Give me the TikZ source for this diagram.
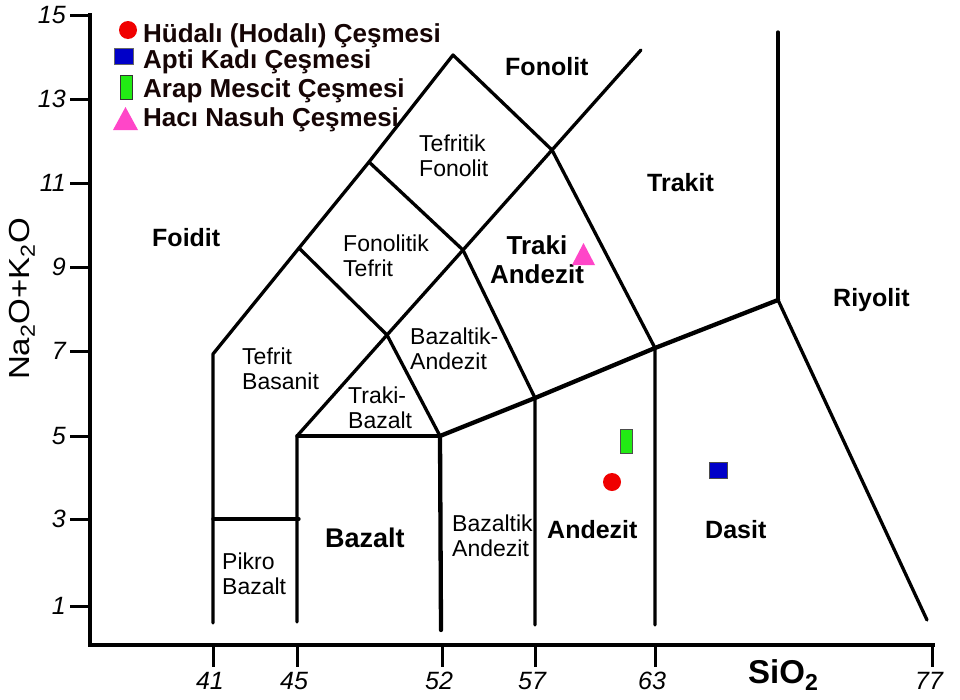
\documentclass[tikz,border=0pt]{standalone}
\usepackage{fontspec}
\usepackage{graphicx}
\setmainfont{Liberation Sans}
\definecolor{legtxt}{RGB}{22,5,5}
\definecolor{mkred}{RGB}{240,0,0}
\definecolor{mkblue}{RGB}{0,0,200}
\definecolor{mkgreen}{RGB}{34,235,20}
\definecolor{mkpink}{RGB}{255,70,200}
\tikzset{
  bound/.style={line width=3.3pt, line cap=round, line join=round},
  boundthick/.style={line width=4.3pt, line cap=round, line join=round},
  axisline/.style={line width=4.2pt, line cap=rect},
  tickline/.style={line width=3pt},
  lbl/.style={inner sep=0pt, anchor=north west, align=left, font=\fontsize{23}{25}\selectfont},
  blbl/.style={inner sep=0pt, anchor=north west, font=\fontsize{25}{28}\selectfont\bfseries},
  tk/.style={inner sep=0pt, font=\fontsize{25}{25}\selectfont\itshape},
  legend/.style={inner sep=0pt, anchor=base west, text=legtxt, font=\fontsize{26}{26}\selectfont\bfseries},
}
\begin{document}
\begin{tikzpicture}[x=1pt,y=-1pt]
\useasboundingbox (0,0) rectangle (960,699);
\fill[white] (0,0) rectangle (960,699);

% ---- key points of the TAS boundaries
\coordinate (a41b) at (213,623);
\coordinate (a41t) at (213,354);
\coordinate (p1) at (299,248);
\coordinate (p2) at (369,162);
\coordinate (peak) at (453,55);
\coordinate (j1) at (552,150);
\coordinate (ft) at (641,50);
\coordinate (j2) at (463,250);
\coordinate (j3) at (387,335);
\coordinate (b45t) at (297,436);
\coordinate (b45b) at (297,622);
\coordinate (b52t) at (440,436);
\coordinate (b52b) at (441,630);
\coordinate (j57) at (535,398);
\coordinate (b57b) at (535,625);
\coordinate (j63) at (655,348);
\coordinate (b63b) at (655,625);
\coordinate (r) at (778,300);
\coordinate (rtop) at (778,32);
\coordinate (rbot) at (927,620);
\coordinate (pk1) at (213,519);
\coordinate (pk2) at (299,519);

% ---- boundaries
\draw[bound] (a41b) -- (a41t) -- (p1) -- (p2) -- (peak) -- (j1) -- (j63) -- (b63b);
\draw[bound] (ft) -- (j1) -- (j2) -- (j3) -- (b45t) -- (b45b);
\draw[bound] (p1) -- (j3) -- (b52t);
\draw[boundthick] (b52t) -- (b52b);
\draw[bound] (p2) -- (j2) -- (j57) -- (b57b);
\draw[bound] (b45t) -- (b52t);
\draw[boundthick] (b52t) -- (j57) -- (j63) -- (r);
\draw[bound] (r) -- (rbot);
\draw[bound] (rtop) -- (r);
\draw[bound] (pk1) -- (pk2);

% ---- axes
\coordinate (ytop) at (90,15);
\coordinate (orig) at (90,645);
\coordinate (xend) at (933,645);
\draw[axisline] (ytop) -- (orig) -- (xend);
\foreach \v/\yy in {15/15,13/99,11/183,9/267,7/351,5/436,3/519,1/606}{
  \draw[tickline] (70,\yy) -- (90,\yy);
  \node[tk, anchor=east] (yt\v) at (66,\yy) {\v};
}
\foreach \v/\xx in {41/213,45/297,52/442,57/535,63/655,77/932}{
  \draw[tickline] (\xx,645) -- (\xx,667);
  \node[tk] (xt\v) at (\xx-3,681) {\v};
}
\node[inner sep=0pt, rotate=90, font=\fontsize{29}{29}\selectfont] (ylab) at (22,299)
  {\scalebox{1.14}[1]{Na\textsubscript{2}O+K\textsubscript{2}O}};
\node[inner sep=0pt, anchor=base west, font=\fontsize{33}{33}\selectfont\bfseries] (xlab) at (748,683)
  {SiO\textsubscript{2}};

% ---- region labels
\node[blbl] (foidit) at (152,228) {Foidit};
\node[blbl] (fonolit) at (505,57) {Fonolit};
\node[blbl] (trakit) at (647,173) {Trakit};
\node[blbl] (riyolit) at (833,288) {Riyolit};
\node[blbl, anchor=north, align=center, font=\fontsize{26}{29}\selectfont\bfseries] (trakiand) at (537,235) {Traki\\Andezit};
\node[blbl] (andezit) at (547,520) {Andezit};
\node[blbl] (dasit) at (705,520) {Dasit};
\node[blbl, font=\fontsize{27}{28}\selectfont\bfseries] (bazalt) at (325,528) {Bazalt};
\node[lbl] (tefritikf) at (419,135) {Tefritik\\Fonolit};
\node[lbl] (fonolitikt) at (343,235) {Fonolitik\\Tefrit};
\node[lbl] (bazaltikand1) at (410,328) {Bazaltik-\\Andezit};
\node[lbl] (trakibaz) at (348,387) {Traki-\\Bazalt};
\node[lbl] (tefritbas) at (242,348) {Tefrit\\Basanit};
\node[lbl] (pikro) at (222,553) {Pikro\\Bazalt};
\node[lbl] (bazaltikand2) at (452,515) {Bazaltik\\Andezit};

% ---- data points
\fill[mkpink] (572,265) -- (583.5,243) -- (595,265) -- cycle;
\draw[black!70, line width=0.8pt, fill=mkgreen] (620,429) rectangle (632,453);
\fill[mkred] (612,482) circle (9pt);
\draw[black!70, line width=0.8pt, fill=mkblue] (709,462) rectangle (727,478);

% ---- legend
\fill[mkred] (128,30) circle (9pt);
\draw[black!60, line width=0.6pt, fill=mkblue] (114,48) rectangle (133,64);
\draw[black!80, line width=0.8pt, fill=mkgreen] (120,75) rectangle (132,99);
\fill[mkpink] (113,130) -- (125.5,107) -- (138,130) -- cycle;
\node[legend] (leg1) at (143,42) {Hüdalı (Hodalı) Çeşmesi};
\node[legend] (leg2) at (143,68) {Apti Kadı Çeşmesi};
\node[legend] (leg3) at (143,97) {Arap Mescit Çeşmesi};
\node[legend] (leg4) at (143,126) {Hacı Nasuh Çeşmesi};
\end{tikzpicture}
\end{document}
